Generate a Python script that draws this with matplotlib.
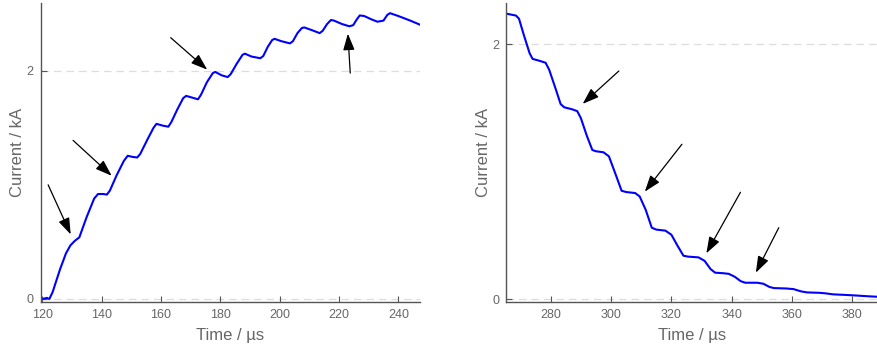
import matplotlib.pyplot as plt

plt.rcParams['font.family'] = ['Liberation Sans', 'DejaVu Sans']

# rising edge (left panel)
t_rise = [119.5, 121.0, 121.5, 122.4, 123.5, 126.0, 128.0, 129.5, 131.0, 132.5,
          135.0, 137.5, 138.8, 140.5, 141.8, 142.8, 145.0, 147.5, 148.8, 150.5,
          152.0, 153.0, 155.5, 157.5, 158.5, 160.5, 162.5, 163.5, 165.5, 167.5,
          168.5, 170.5, 172.5, 173.5, 175.5, 177.5, 178.3, 180.5, 182.5, 183.5,
          185.5, 187.5, 188.3, 190.5, 193.5, 194.5, 196.0, 197.5, 198.3, 200.5,
          203.5, 204.5, 206.0, 207.5, 208.3, 211.0, 213.5, 214.5, 216.0, 217.3,
          218.3, 221.0, 223.5, 224.8, 226.0, 227.0, 228.5, 231.0, 233.0, 235.0,
          236.3, 237.2, 240.0, 244.0, 247.2]
i_rise = [0.0, 0.005, 0.01, 0.0, 0.06, 0.26, 0.40, 0.47, 0.51, 0.54,
          0.72, 0.88, 0.92, 0.92, 0.915, 0.95, 1.08, 1.21, 1.255, 1.245,
          1.24, 1.27, 1.40, 1.50, 1.535, 1.52, 1.51, 1.55, 1.66, 1.76,
          1.78, 1.765, 1.75, 1.79, 1.90, 1.98, 1.99, 1.96, 1.945, 1.97,
          2.06, 2.14, 2.15, 2.125, 2.11, 2.13, 2.21, 2.27, 2.28, 2.26,
          2.24, 2.26, 2.33, 2.375, 2.38, 2.355, 2.33, 2.35, 2.41, 2.445,
          2.44, 2.41, 2.39, 2.40, 2.45, 2.485, 2.48, 2.45, 2.43, 2.44,
          2.49, 2.505, 2.48, 2.44, 2.405]

# falling edge (right panel)
t_fall = [265.3, 268.5, 269.5, 271.0, 273.0, 274.0, 276.0, 278.3, 279.5, 281.5,
          283.3, 284.5, 287.0, 288.8, 290.0, 292.0, 293.8, 295.0, 297.5, 299.3,
          301.5, 303.5, 305.0, 308.0, 309.5, 311.5, 313.5, 315.0, 318.0, 320.0,
          322.0, 324.0, 325.5, 329.0, 331.0, 333.0, 334.5, 337.0, 339.0, 341.0,
          343.0, 344.5, 348.5, 350.5, 352.5, 354.0, 358.0, 360.5, 363.0, 365.0,
          369.0, 371.0, 373.5, 378.0, 381.0, 385.0, 388.2]
i_fall = [2.24, 2.225, 2.20, 2.08, 1.93, 1.885, 1.872, 1.855, 1.80, 1.66,
          1.53, 1.505, 1.49, 1.475, 1.42, 1.28, 1.17, 1.16, 1.152, 1.12,
          0.98, 0.85, 0.84, 0.832, 0.805, 0.70, 0.56, 0.545, 0.537, 0.505,
          0.42, 0.34, 0.333, 0.327, 0.30, 0.235, 0.207, 0.203, 0.198, 0.175,
          0.14, 0.128, 0.128, 0.12, 0.095, 0.086, 0.083, 0.078, 0.06, 0.052,
          0.049, 0.045, 0.037, 0.032, 0.028, 0.022, 0.018]

# arrows: (tail t, tail I, head t, head I)
arrows_rise = [(122.0, 1.00, 129.6, 0.566),
               (130.4, 1.39, 143.4, 1.08),
               (163.3, 2.29, 175.6, 2.01),
               (223.8, 1.98, 223.0, 2.325)]
arrows_fall = [(302.6, 1.79, 290.6, 1.532),
               (323.5, 1.215, 311.2, 0.843),
               (342.9, 0.838, 331.6, 0.359),
               (355.6, 0.56, 348.0, 0.207)]

fig = plt.figure(figsize=(8.78, 3.47), dpi=100)
ax1 = fig.add_axes([0.0464, 0.1305, 0.4316, 0.8595])
ax2 = fig.add_axes([0.5767, 0.1305, 0.4223, 0.8595])

panels = [(ax1, t_rise, i_rise, arrows_rise, (119.5, 247.2), (-0.024, 2.59), [120, 140, 160, 180, 200, 220, 240]),
          (ax2, t_fall, i_fall, arrows_fall, (265.3, 388.2), (-0.021, 2.32), [280, 300, 320, 340, 360, 380])]

for ax, t, i, arr, xl, yl, xt in panels:
    ax.axhline(0, color='#dddddd', lw=0.9, ls=(0, (6, 4)), zorder=0)
    ax.axhline(2, color='#dddddd', lw=0.9, ls=(0, (6, 4)), zorder=0)
    ax.plot(t, i, color='#0000ff', lw=1.5)
    for tx, ty, hx, hy in arr:
        ax.annotate('', xy=(hx, hy), xytext=(tx, ty),
                    arrowprops=dict(arrowstyle='-|>,head_length=1.0,head_width=0.35',
                                    color='black', lw=0.9, shrinkA=0, shrinkB=0))
    ax.set_xlim(xl)
    ax.set_ylim(yl)
    ax.set_xticks(xt)
    ax.set_yticks([0, 2])
    ax.tick_params(direction='in', length=4, width=0.8, color='#555555',
                   labelcolor='#666666', labelsize=9, pad=5)
    for s in ['top', 'right']:
        ax.spines[s].set_visible(False)
    for s in ['left', 'bottom']:
        ax.spines[s].set_color('#555555')
        ax.spines[s].set_linewidth(1.0)
    ax.set_xlabel('Time / µs', fontsize=12, color='#666666', labelpad=5)
    ax.set_ylabel('Current / kA', fontsize=12, color='#666666', labelpad=1)

fig.savefig('out.png', dpi=100)
